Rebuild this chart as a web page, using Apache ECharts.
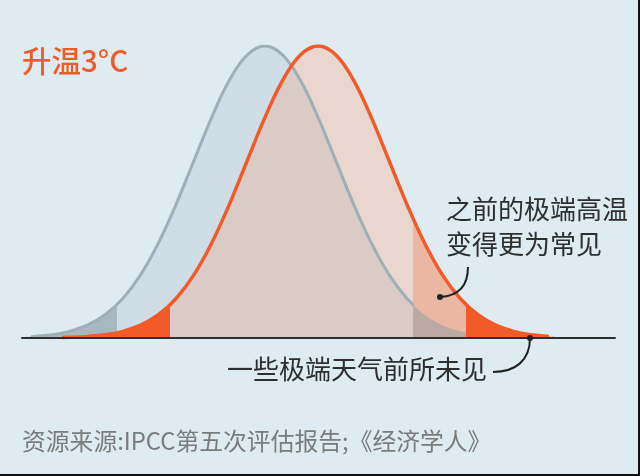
<!DOCTYPE html>
<html>
<head>
<meta charset="utf-8">
<script src="https://cdn.jsdelivr.net/npm/echarts/dist/echarts.min.js"></script>
<style>
html,body{margin:0;padding:0;background:#deebf0;}
#c{width:640px;height:476px;}
</style>
</head>
<body>
<div id="c"></div>
<script>
// x positions (in standard deviations of the old climate)
const xs = [-3.5,-3.25,-3.0,-2.75,-2.5,-2.25,-2.0,-1.75,-1.5,-1.25,-1.0,-0.75,-0.5,-0.25,0,
            0.25,0.5,0.75,1.0,1.25,1.5,1.75,2.0,2.25,2.5,2.75,3.0,3.25,3.5,3.75,4.0,4.25,4.5,4.75,5.0];
// old climate distribution (grey)
const oldClimate = [0.0022,0.0051,0.0111,0.0228,0.0439,0.0796,0.1353,0.2163,0.3247,0.4578,0.6065,0.7548,0.8825,0.9692,1.0,
                    0.9692,0.8825,0.7548,0.6065,0.4578,0.3247,0.2163,0.1353,0.0796,0.0439,0.0228,0.0111,0.0051,0.0022,0.0009,0.0003,0.0001,0,0,0];
// +3°C climate distribution (orange)
const warmClimate = [0.0001,0.0003,0.0009,0.0022,0.0051,0.0111,0.0228,0.0439,0.0796,0.1353,0.2163,0.3247,0.4578,0.6065,0.7548,
                     0.8825,0.9692,1.0,0.9692,0.8825,0.7548,0.6065,0.4578,0.3247,0.2163,0.1353,0.0796,0.0439,0.0228,0.0111,0.0051,0.0022,0.0009,0.0003,0.0001];
// extreme thresholds
const oldCuts = [-2.08, 2.08];
const warmCuts = [-1.33, 2.83];
const crossX = 0.375;
// where the curves flatten into the baseline
const oldFade = -3.3;
const warmFade = [-2.85, 4.0];

const titleText = '升温3°C';
const noteHigh = ['之前的极端高温', '变得更为常见'];
const noteNew = '一些极端天气前所未见';
const sourceText = '资源来源:IPCC第五次评估报告;《经济学人》';

const C = {
  grayLight:'#cfdee6', grayDark:'#a8b8c0', grayLine:'#9eafb7',
  beige:'#e9d6cf', overlap:'#dacbc7', band:'#eab7a3', overlapBand:'#bba9a4',
  orange:'#f15a29', T:'rgba(0,0,0,0)', ink:'#2e2e2e', src:'#7b7b7b'
};
const FONT = '"Noto Sans CJK SC","Noto Sans",sans-serif';

const oldData = xs.map((x,i)=>[x, oldClimate[i]]);
const warmData = xs.map((x,i)=>[x, warmClimate[i]]);
const SM = 0.4;

function areaSeries(data, z){
  return {type:'line', data, smooth:SM, showSymbol:false, symbol:'none', z,
          lineStyle:{width:0, opacity:0}, areaStyle:{opacity:1}, silent:true, animation:false};
}
function lineSeries(data, z, width){
  return {type:'line', data, smooth:SM, showSymbol:false, symbol:'none', z,
          lineStyle:{width}, silent:true, animation:false};
}

const series = [
  areaSeries(oldData, 2),   // 0 grey area
  areaSeries(warmData, 3),  // 1 warm area
  areaSeries(warmData, 4),  // 2 overlap (left of crossing)
  areaSeries(oldData, 5),   // 3 overlap (right of crossing)
  lineSeries(oldData, 6, 3),// 4 grey line
  lineSeries(warmData, 8, 3.5) // 5 orange line
];

const visualMap = [
  {seriesIndex:0, pieces:[{lt:oldCuts[0], color:C.grayDark},{gte:oldCuts[0], lt:oldCuts[1], color:C.grayLight},{gte:oldCuts[1], color:C.overlapBand}]},
  {seriesIndex:1, pieces:[{lt:warmCuts[0], color:C.orange},{gte:warmCuts[0], lt:oldCuts[1], color:C.beige},{gte:oldCuts[1], lt:warmCuts[1], color:C.band},{gte:warmCuts[1], color:C.orange}]},
  {seriesIndex:2, pieces:[{lt:warmCuts[0], color:C.orange},{gte:warmCuts[0], lt:crossX+0.03, color:C.overlap},{gte:crossX+0.03, color:C.T}]},
  {seriesIndex:3, pieces:[{lt:crossX, color:C.T},{gte:crossX, lt:oldCuts[1], color:C.overlap},{gte:oldCuts[1], lt:warmCuts[1], color:C.overlapBand},{gte:warmCuts[1], color:C.orange}]},
  {seriesIndex:4, pieces:[{lt:oldFade, color:C.T},{gte:oldFade, lt:oldCuts[1]+0.02, color:C.grayLine},{gte:oldCuts[1]+0.02, color:C.T}]},
  {seriesIndex:5, pieces:[{lt:warmFade[0], color:C.T},{gte:warmFade[0], lt:warmFade[1], color:C.orange},{gte:warmFade[1], color:C.T}]}
].map(v=>Object.assign({type:'piecewise', show:false, dimension:0}, v));

const option = {
  backgroundColor:'#deebf0',
  animation:false,
  grid:{left:22, right:25, top:46, bottom:138, containLabel:false},
  xAxis:{type:'value', min:-3.42, max:4.93, z:10,
         axisLine:{show:true, onZero:true, lineStyle:{color:C.ink, width:2}},
         axisTick:{show:false}, axisLabel:{show:false}, splitLine:{show:false}},
  yAxis:{type:'value', min:0, max:1, show:false, splitLine:{show:false}},
  visualMap,
  series,
  graphic:[
    {type:'text', x:22, y:61, style:{text:titleText, font:'500 29.5px '+FONT, fill:C.orange, align:'left', verticalAlign:'middle'}},
    {type:'text', x:446, y:209, style:{text:noteHigh[0], font:'26px '+FONT, fill:C.ink, align:'left', verticalAlign:'middle'}},
    {type:'text', x:446, y:244, style:{text:noteHigh[1], font:'26px '+FONT, fill:C.ink, align:'left', verticalAlign:'middle'}},
    {type:'text', x:227, y:369, style:{text:noteNew, font:'26px '+FONT, fill:C.ink, align:'left', verticalAlign:'middle'}},
    {type:'text', x:22, y:441, style:{text:sourceText, font:'23.8px '+FONT, fill:C.src, align:'left', verticalAlign:'middle'}},
    {type:'bezierCurve', z:20, shape:{x1:440, y1:297, cpx1:458, cpy1:296, cpx2:468, cpy2:286, x2:468, y2:267}, style:{stroke:'#222', lineWidth:2, fill:null}},
    {type:'circle', z:20, shape:{cx:440, cy:297, r:3}, style:{fill:'#222'}},
    {type:'bezierCurve', z:20, shape:{x1:530, y1:338, cpx1:530, cpy1:361, cpx2:515, cpy2:372, x2:493, y2:372}, style:{stroke:'#222', lineWidth:2, fill:null}},
    {type:'circle', z:20, shape:{cx:530, cy:338, r:3}, style:{fill:'#222'}},
    {type:'line', z:20, shape:{x1:639, y1:0, x2:639, y2:476}, style:{stroke:'#111', lineWidth:2}},
    {type:'line', z:20, shape:{x1:0, y1:475, x2:640, y2:475}, style:{stroke:'#111', lineWidth:2}}
  ]
};
const chart = echarts.init(document.getElementById('c'), null, {renderer:'canvas'});
chart.setOption(option);
</script>
</body>
</html>
